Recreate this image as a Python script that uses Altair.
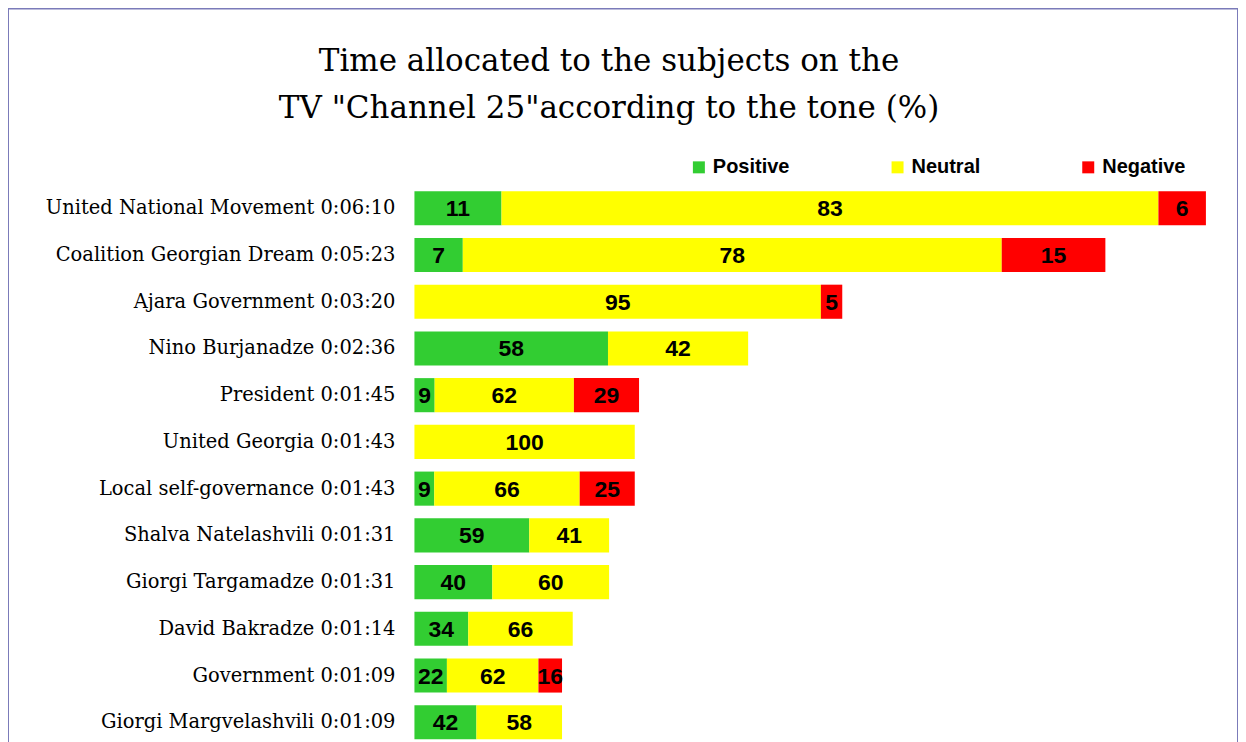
import altair as alt
import pandas as pd

subjects = [
    "United National Movement", "Coalition Georgian Dream", "Ajara Government",
    "Nino Burjanadze", "President", "United Georgia", "Local self-governance",
    "Shalva Natelashvili", "Giorgi Targamadze", "David Bakradze", "Government",
    "Giorgi Margvelashvili",
]
times = ["0:06:10", "0:05:23", "0:03:20", "0:02:36", "0:01:45", "0:01:43",
         "0:01:43", "0:01:31", "0:01:31", "0:01:14", "0:01:09", "0:01:09"]
positive = [11, 7, 0, 58, 9, 0, 9, 59, 40, 34, 22, 42]
neutral = [83, 78, 95, 42, 62, 100, 66, 41, 60, 66, 62, 58]
negative = [6, 15, 5, 0, 29, 0, 25, 0, 0, 0, 16, 0]

tones = ["Positive", "Neutral", "Negative"]
tone_colors = ["#32cd32", "#ffff00", "#ff0000"]
title_lines = ["Time allocated to the subjects on the",
               'TV "Channel 25"according to the tone (%)']


def to_seconds(t):
    h, m, s = (int(v) for v in t.split(":"))
    return h * 3600 + m * 60 + s


labels = [f"{s} {t}" for s, t in zip(subjects, times)]
rows = []
for lab, t, p, n, g in zip(labels, times, positive, neutral, negative):
    total = to_seconds(t)
    start = 0.0
    for tone, pct in zip(tones, [p, n, g]):
        if pct == 0:
            continue
        w = total * pct / 100.0
        rows.append(dict(label=lab, tone=tone, pct=pct, start=start,
                         end=start + w, mid=start + w / 2))
        start += w
df = pd.DataFrame(rows)
lab_df = pd.DataFrame({"label": labels, "zero": [0] * len(labels)})

SERIF = "DejaVu Serif"
W, H = 1232, 745
xscale = alt.Scale(domain=[-190, 385], nice=False, zero=False)
yscale = alt.Scale(range=[176.6, 738.2], paddingInner=0.27, paddingOuter=0.135)
Y = alt.Y("label:N", sort=labels, scale=yscale, axis=None)

bars = alt.Chart(df).mark_bar(cornerRadius=0).encode(
    x=alt.X("start:Q", scale=xscale, axis=None),
    x2="end:Q",
    y=Y,
    color=alt.Color(
        "tone:N",
        scale=alt.Scale(domain=tones, range=tone_colors),
        legend=alt.Legend(
            orient="none", legendX=682, legendY=149, direction="horizontal",
            columns=3, columnPadding=98, symbolType="square", symbolSize=144,
            symbolStrokeWidth=0, symbolOpacity=1, labelFont="Liberation Sans",
            labelFontSize=20, labelFontWeight="bold", labelColor="black",
            labelOffset=4, title=None, padding=0,
        ),
    ),
)

pct_text = alt.Chart(df).mark_text(
    font="Liberation Sans", fontSize=23, fontWeight="bold", color="black",
    baseline="middle", align="center", dy=1,
).encode(
    x=alt.X("mid:Q", scale=xscale),
    y=Y,
    text="pct:Q",
)

row_text = alt.Chart(lab_df).mark_text(
    font=SERIF, fontSize=19.5, color="black",
    baseline="middle", align="right", dx=-19,
).encode(
    x=alt.X("zero:Q", scale=xscale),
    y=Y,
    text="label:N",
)

chart = alt.layer(bars, pct_text, row_text).properties(
    width=W, height=H,
    title=alt.Title(
        text=title_lines, font=SERIF, fontSize=31,
        fontWeight="normal", color="black", anchor="middle",
        offset=-117, lineHeight=48, dx=-14,
    ),
    autosize=alt.AutoSizeParams(type="none"),
    padding=0,
).configure(
    background="white",
).configure_view(
    stroke="#7b7bb9", strokeWidth=2,
)

chart.save("out.html", embed_options={"renderer": "svg", "actions": False})
